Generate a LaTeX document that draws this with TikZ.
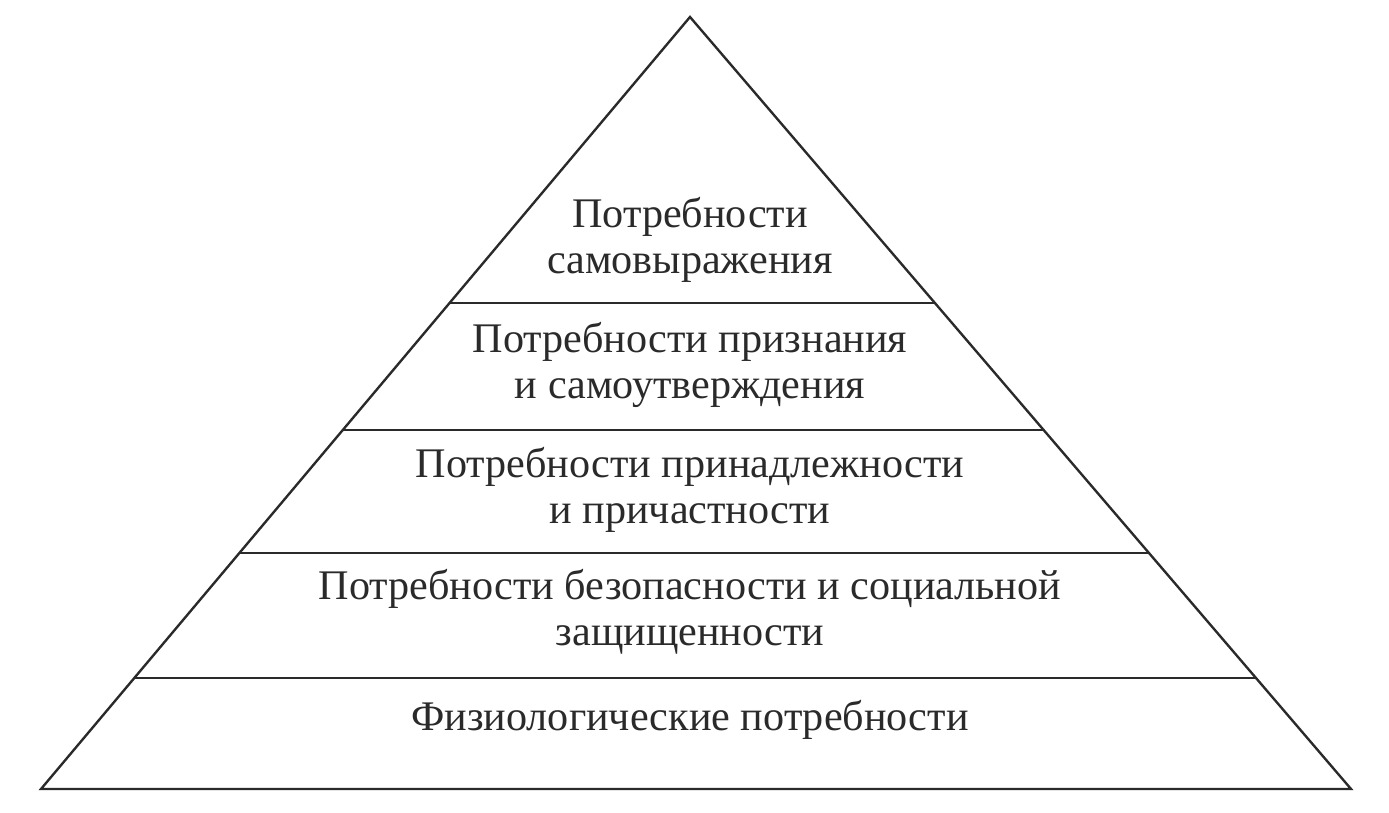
\documentclass[tikz,border=0pt]{standalone}
\usepackage{fontspec}
\setmainfont{Liberation Serif}
\definecolor{inkgray}{HTML}{2A2A2A}
\begin{document}
\begin{tikzpicture}[line width=1.35pt, draw=inkgray,
        level/.style={align=center, text=inkgray, font=\fontsize{24}{26}\selectfont}]
        \useasboundingbox (0,0) rectangle (27.78,16.26);

        \coordinate (apex) at (13.8,15.92);
        \coordinate (baseL) at (0.82,0.48);
        \coordinate (baseR) at (27.02,0.48);
        \draw[inkgray, line join=miter] (apex) -- (baseL) -- (baseR) -- cycle;
        \draw[inkgray] (8.99,10.2) -- (18.70,10.2);
        \draw[inkgray] (6.86,7.66) -- (20.87,7.66);
        \draw[inkgray] (4.79,5.2) -- (22.98,5.2);
        \draw[inkgray] (2.69,2.7) -- (25.12,2.7);

        \node[level] (self) at (13.8,11.46) {Потребности\\самовыражения};
        \node[level] (esteem) at (13.8,8.96) {Потребности признания\\и самоутверждения};
        \node[level] (belong) at (13.8,6.46) {Потребности принадлежности\\и причастности};
        \node[level] (safety) at (13.8,4.02) {Потребности безопасности и социальной\\защищенности};
        \node[level] (physio) at (13.8,1.86) {Физиологические потребности};
    \end{tikzpicture}
\end{document}
